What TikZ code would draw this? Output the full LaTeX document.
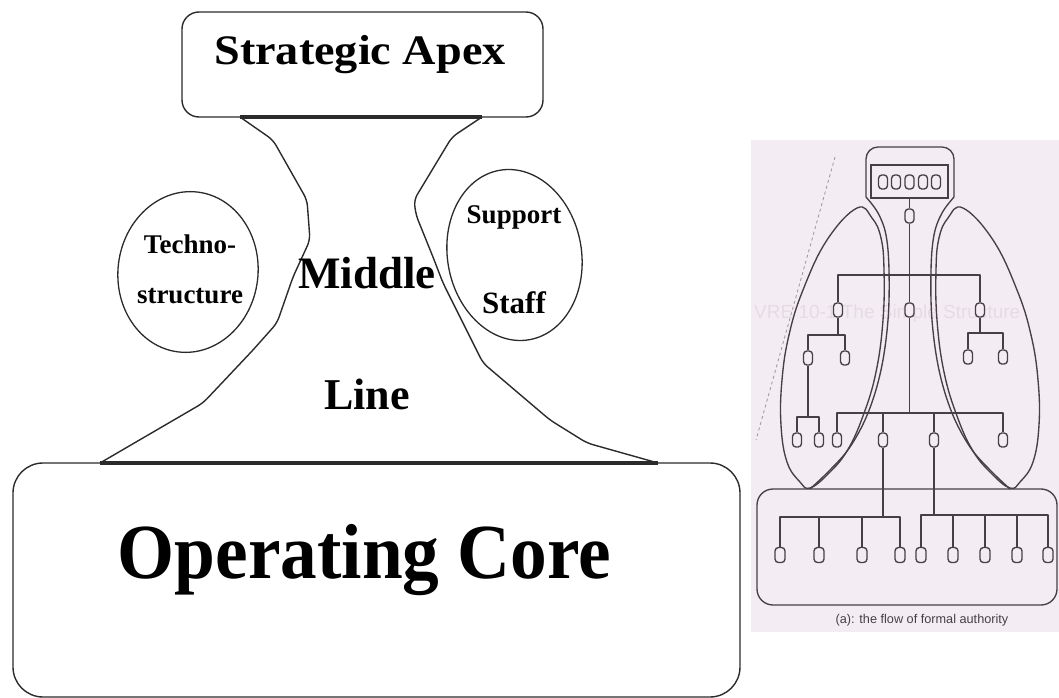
\documentclass[tikz,border=0pt]{standalone}
\usepackage{fontspec}
\setmainfont{Liberation Serif}
\setsansfont{Liberation Sans}
\usetikzlibrary{shapes.geometric}

\definecolor{ink}{HTML}{2B2B2B}
\definecolor{scanbg}{HTML}{F3EDF3}
\definecolor{scanink}{HTML}{464046}
\definecolor{ghost}{HTML}{E5DBE5}

\tikzset{
  outline/.style={draw=ink, line width=1.4bp, line join=round},
  seam/.style={draw=ink, line width=3.2bp},
  bubble/.style={ellipse, draw=ink, line width=1.3bp, inner sep=0pt},
  txt/.style={text=black, inner sep=0pt, anchor=base},
  chart/.style={draw=scanink, line width=1.35bp, line join=round},
  unit/.style={draw=scanink, line width=1.35bp, rounded corners=3.5bp,
    minimum width=9bp, minimum height=14bp, inner sep=0pt, fill=scanbg},
  bigunit/.style={unit, minimum width=10bp, minimum height=15bp},
}

\begin{document}
\begin{tikzpicture}[x=1bp, y=-1bp]
\useasboundingbox (0,0) rectangle (1059,698);

% ---------------- five-part organisation sketch ----------------
\node[draw=ink, line width=1.4bp, rounded corners=17bp, minimum width=361bp,
      minimum height=105bp, inner sep=0pt] (apex) at (362.5,64.5) {};
\node[txt, font=\fontsize{42bp}{46bp}\selectfont\bfseries, xscale=1.1]
      (apexT) at (360,65) {Strategic Apex};

\node[draw=ink, line width=1.4bp, rounded corners=30bp, minimum width=727bp,
      minimum height=234bp, inner sep=0pt] (core) at (376.5,580) {};
\node[txt, font=\fontsize{78bp}{80bp}\selectfont\bfseries, xscale=0.94]
      (coreT) at (364.5,578) {Operating Core};

% joints of the middle line with apex and core
\coordinate (aL) at (240,117);
\coordinate (aR) at (482,117);
\coordinate (cL) at (100,463);
\coordinate (cR) at (658,463);
\draw[seam] (aL) -- (aR);
\draw[seam] (cL) -- (cR);

% flanks of the middle line
\draw[outline, rounded corners=6bp] (aL) -- (273,140) -- (307,200) -- (310,240)
  -- (293,277) -- (277,323) -- (253,350) -- (203,403) -- (cL);
\draw[outline, rounded corners=6bp] (aR) -- (452,137) -- (414,200) -- (416,215)
  -- (433,257) -- (443,283) -- (483,363) -- (550,420) -- (587,443) -- (cR);

% staff units
\node[bubble, minimum width=140bp, minimum height=161bp, rotate=-7] (techno) at (188,272) {};
\node[bubble, minimum width=134bp, minimum height=172bp, rotate=10] (support) at (514.5,255) {};

\node[txt, font=\fontsize{27bp}{30bp}\selectfont\bfseries] (tech1) at (190,253) {Techno-};
\node[txt, font=\fontsize{27bp}{30bp}\selectfont\bfseries] (tech2) at (190,303) {structure};
\node[txt, font=\fontsize{45bp}{48bp}\selectfont\bfseries] (midT) at (367,288) {Middle};
\node[txt, font=\fontsize{44bp}{48bp}\selectfont\bfseries] (lineT) at (367,409) {Line};
\node[txt, font=\fontsize{27bp}{30bp}\selectfont\bfseries] (sup1) at (514,223) {Support};
\node[txt, font=\fontsize{31bp}{34bp}\selectfont\bfseries] (sup2) at (514,313) {Staff};

% ---------------- scanned chart: the flow of formal authority ----------------
\fill[scanbg] (751,140) rectangle (1059,632);
\node[font=\sffamily\fontsize{19bp}{21bp}\selectfont, text=ghost, anchor=base west,
      inner sep=0pt] (ghostT) at (754,318) {VRE 10-1 The Simple Structure};

\coordinate (d1) at (835,157);
\coordinate (d2) at (756,440);
\draw[scanink!55, line width=0.8bp, dashed] (d1) -- (d2);

% operating core
\node[draw=scanink, line width=1.35bp, rounded corners=16bp, minimum width=300bp,
      minimum height=116bp, inner sep=0pt] (opcore) at (907,547) {};

% staff lobes
\draw[chart] plot[smooth cycle, tension=0.7] coordinates {(857,208) (827,240) (803,290)
  (789,335) (782,380) (781,425) (787,462) (800,482) (810,488) (828,474) (847,451)
  (863,416) (876,372) (883,320) (884,270) (881,238) (872,218)};
\draw[chart] plot[smooth cycle, tension=0.7] coordinates {(963,208) (993,240) (1017,290)
  (1031,335) (1038,380) (1039,425) (1033,462) (1020,482) (1010,488) (992,474) (973,451)
  (957,416) (944,372) (937,320) (936,270) (939,238) (948,218)};

% apex and middle line column
\draw[chart] plot[smooth, tension=0.6] coordinates {(810,489) (830,470) (850,447) (868,413)
  (881,370) (888,320) (889,270) (886,235) (878,213) (866,197)};
\draw[chart, rounded corners=12bp] (866,197) -- (866,147) -- (954,147) -- (954,197);
\draw[chart] plot[smooth, tension=0.6] coordinates {(954,197) (942,213) (934,235) (931,270)
  (932,320) (939,370) (952,413) (970,447) (990,470) (1010,489)};

\node[draw=scanink, line width=1.35bp, minimum width=77bp, minimum height=33bp,
      inner sep=0pt] (board) at (909.5,181.5) {};
\foreach \i/\x in {1/883,2/896,3/909.5,4/923,5/936}
  \node[unit] (a\i) at (\x,182) {};

% chain of command
\node[unit] (s0) at (909.5,216) {};
\node[unit] (l1) at (838,310) {};
\node[unit] (m1) at (909.5,310) {};
\node[unit] (r1) at (980,310) {};
\node[unit] (la) at (808,358) {};
\node[unit] (lb) at (845,358) {};
\node[unit] (ra) at (968,357) {};
\node[unit] (rb) at (1003,357) {};
\node[unit] (lc) at (797,440) {};
\node[unit] (ld) at (819,440) {};
\node[unit] (ma) at (837,440) {};
\node[unit] (mb) at (883,440) {};
\node[unit] (mc) at (934,440) {};
\node[unit] (md) at (1003,440) {};
\foreach \i/\x in {1/780,2/819,3/862,4/900}
  \node[bigunit] (o\i) at (\x,555) {};
\foreach \i/\x in {5/921,6/953,7/985,8/1017,9/1048}
  \node[bigunit] (o\i) at (\x,555) {};

\coordinate (j1) at (909.5,275);
\coordinate (jL2) at (838,335);
\coordinate (jL3) at (808,417);
\coordinate (jM) at (909.5,413);
\coordinate (jR2) at (980,333);
\coordinate (jB1) at (883,517);
\coordinate (jB2) at (934,515);

\draw[chart] (board.south) -- (s0.north);
\draw[chart] (s0.south) -- (m1.north);
\draw[chart] (l1.north) |- (j1) -| (r1.north);
\draw[chart] (l1.south) -- (jL2);
\draw[chart] (la.north) |- (jL2) -| (lb.north);
\draw[chart] (la.south) -- (jL3);
\draw[chart] (lc.north) |- (jL3) -| (ld.north);
\draw[chart] (r1.south) -- (jR2);
\draw[chart] (ra.north) |- (jR2) -| (rb.north);
\draw[chart] (m1.south) -- (jM);
\draw[chart] (ma.north) |- (jM) -| (md.north);
\draw[chart] (mb.north) -- (mb.north |- jM);
\draw[chart] (mc.north) -- (mc.north |- jM);
\draw[chart] (mb.south) -- (jB1);
\draw[chart] (o1.north) |- (jB1) -| (o4.north);
\draw[chart] (o2.north) -- (o2.north |- jB1);
\draw[chart] (o3.north) -- (o3.north |- jB1);
\draw[chart] (mc.south) -- (jB2);
\draw[chart] (o5.north) |- (jB2) -| (o9.north);
\foreach \i in {6,7,8}
  \draw[chart] (o\i.north) -- (o\i.north |- jB2);

\node[font=\sffamily\fontsize{12.7bp}{14bp}\selectfont, text=scanink, anchor=base,
      inner sep=0pt] (cap) at (922,623) {(a): the flow of formal authority};
\end{tikzpicture}
\end{document}
